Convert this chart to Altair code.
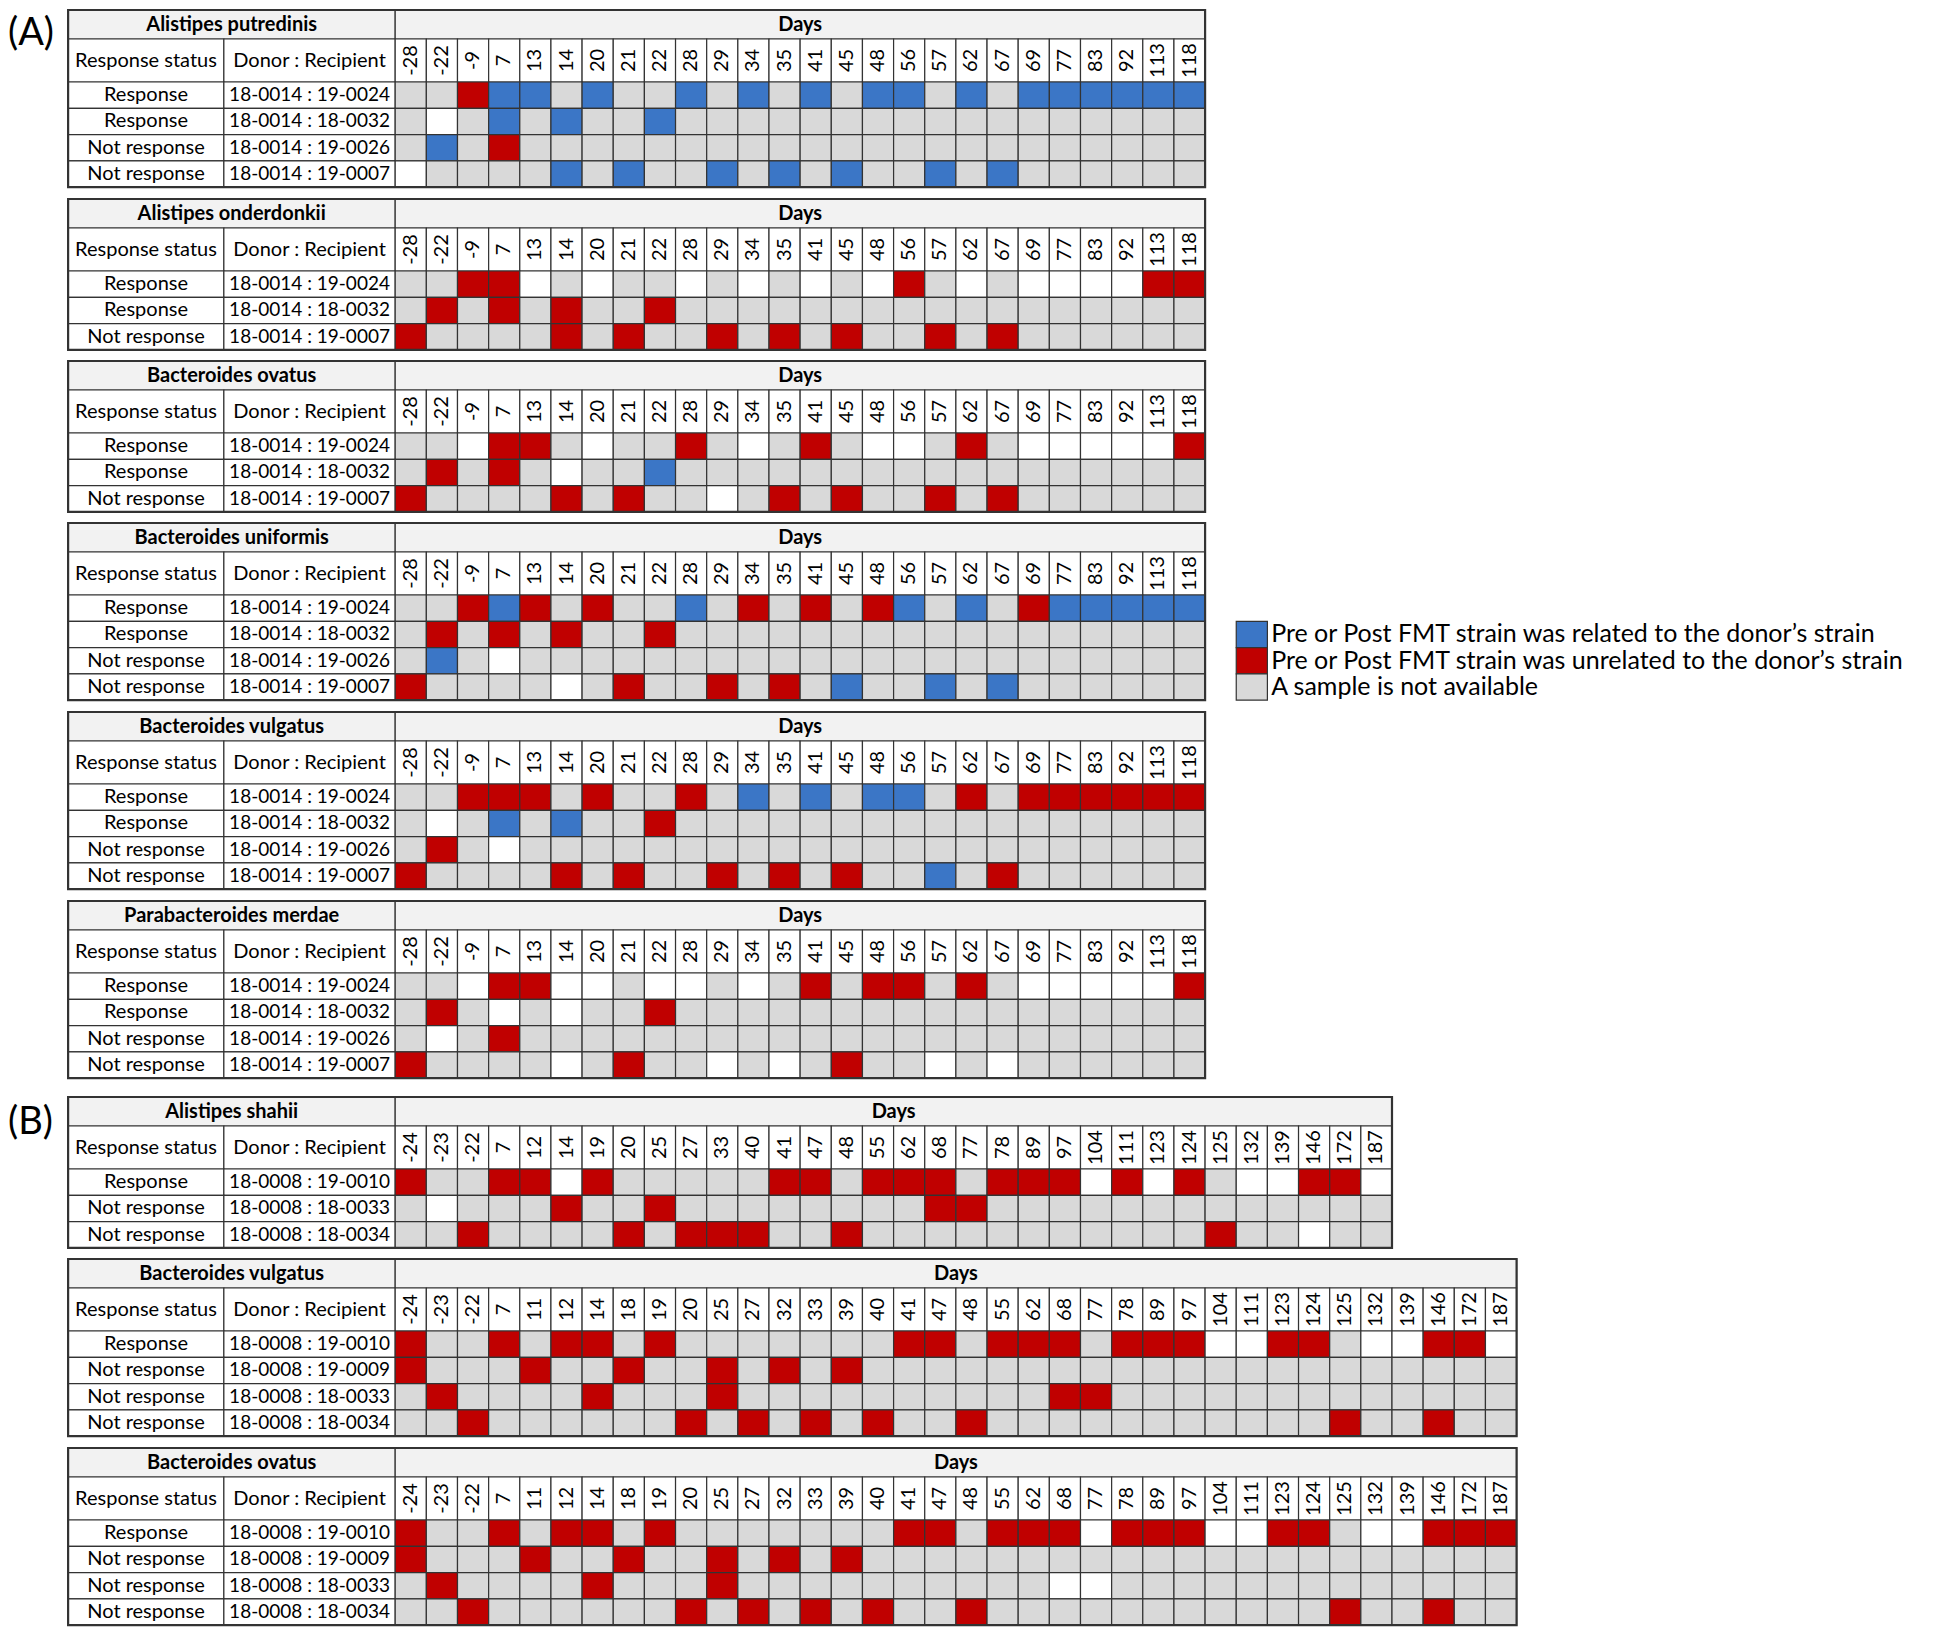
import altair as alt
import pandas as pd

# ---------------- data ----------------
DAYS_A = [-28, -22, -9, 7, 13, 14, 20, 21, 22, 28, 29, 34, 35, 41, 45, 48, 56, 57, 62, 67, 69, 77, 83, 92, 113, 118]
DAYS_B1 = [-24, -23, -22, 7, 12, 14, 19, 20, 25, 27, 33, 40, 41, 47, 48, 55, 62, 68, 77, 78, 89, 97, 104, 111,
           123, 124, 125, 132, 139, 146, 172, 187]
DAYS_B23 = [-24, -23, -22, 7, 11, 12, 14, 18, 19, 20, 25, 27, 32, 33, 39, 40, 41, 47, 48, 55, 62, 68, 77, 78, 89,
            97, 104, 111, 123, 124, 125, 132, 139, 146, 172, 187]

RESP_A4 = ["Response", "Response", "Not response", "Not response"]
PAIR_A4 = ["18-0014 : 19-0024", "18-0014 : 18-0032", "18-0014 : 19-0026", "18-0014 : 19-0007"]
RESP_A3 = ["Response", "Response", "Not response"]
PAIR_A3 = ["18-0014 : 19-0024", "18-0014 : 18-0032", "18-0014 : 19-0007"]
RESP_B1 = ["Response", "Not response", "Not response"]
PAIR_B1 = ["18-0008 : 19-0010", "18-0008 : 18-0033", "18-0008 : 18-0034"]
RESP_B4 = ["Response", "Not response", "Not response", "Not response"]
PAIR_B4 = ["18-0008 : 19-0010", "18-0008 : 19-0009", "18-0008 : 18-0033", "18-0008 : 18-0034"]

# B = related to donor strain, R = unrelated, G = sample not available, W = blank (white)
A_PUTREDINIS = ["GGRBBGBGGBGBGBGBBGBGBBBBBB",
                "GWGBGBGGBGGGGGGGGGGGGGGGGG",
                "GBGRGGGGGGGGGGGGGGGGGGGGGG",
                "WGGGGBGBGGBGBGBGGBGBGGGGGG"]
A_ONDERDONKII = ["GGRRWGWGGWGWGWGWRGWGWWWWRR",
                 "GRGRGRGGRGGGGGGGGGGGGGGGGG",
                 "RGGGGRGRGGRGRGRGGRGRGGGGGG"]
B_OVATUS_A = ["GGWRRGWGGRGWGRGWWGRGWWWWWR",
              "GRGRGWGGBGGGGGGGGGGGGGGGGG",
              "RGGGGRGRGGWGRGRGGRGRGGGGGG"]
B_UNIFORMIS = ["GGRBRGRGGBGRGRGRBGBGRBBBBB",
               "GRGRGRGGRGGGGGGGGGGGGGGGGG",
               "GBGWGGGGGGGGGGGGGGGGGGGGGG",
               "RGGGGWGRGGRGRGBGGBGBGGGGGG"]
B_VULGATUS_A = ["GGRRRGRGGRGBGBGBBGRGRRRRRR",
                "GWGBGBGGRGGGGGGGGGGGGGGGGG",
                "GRGWGGGGGGGGGGGGGGGGGGGGGG",
                "RGGGGRGRGGRGRGRGGBGRGGGGGG"]
P_MERDAE = ["GGWRRWWGWWGWGRGRRGRGWWWWWR",
            "GRGWGWGGRGGGGGGGGGGGGGGGGG",
            "GWGRGGGGGGGGGGGGGGGGGGGGGG",
            "RGGGGWGRGGWGWGRGGWGWGGGGGG"]
A_SHAHII = ["RGGRRWRGGGGGRRGRRRGRRRWRWRGWWRRW",
            "GWGGGRGGRGGGGGGGGRRGGGGGGGGGGGGG",
            "GGRGGGGRGRRRGGRGGGGGGGGGGGRGGWGG"]
B_VULGATUS_B = ["RGGRGRRGRGGGGGGGRRGRRRGRRRWWRRGWWRRW",
                "RGGGRGGRGGRGRGRGGGGGGGGGGGGGGGGGGGGG",
                "GRGGGGRGGGRGGGGGGGGGGRRGGGGGGGGGGGGG",
                "GGRGGGGGGRGRGRGRGGRGGGGGGGGGGGRGGRGG"]
B_OVATUS_B = ["RGGRGRRGRGGGGGGGRRGRRRWRRRWWRRGWWRRR",
              "RGGGRGGRGGRGRGRGGGGGGGGGGGGGGGGGGGGG",
              "GRGGGGRGGGRGGGGGGGGGGWWGGGGGGGGGGGGG",
              "GGRGGGGGGRGRGRGRGGRGGGGGGGGGGGRGGRGG"]

LEGEND_TEXT = ["Pre or Post FMT strain was related to the donor\u2019s strain",
               "Pre or Post FMT strain was unrelated to the donor\u2019s strain",
               "A sample is not available"]

CODE = {"B": "related", "R": "unrelated", "G": "na", "W": "absent"}
KIND_DOMAIN = ["related", "unrelated", "na", "absent", "head", "label"]
KIND_RANGE = ["#3B76C6", "#C00000", "#D9D9D9", "#FFFFFF", "#F2F2F2", "#FFFFFF"]

# ---------------- layout (styles / sizes) ----------------
FONT = "Lato"
CELL_PX = 31.15
ROW_PX = 26.3
TITLE_U = 29 / ROW_PX
HEAD_U = 43 / ROW_PX
STATUS_U = 5.0
DONOR_U = 5.5
LEFT_U = 1.93
BORDER = "#333333"
FS = 20
FS_PAIR = 19
FS_DAY = 20
FS_LEG = 25
FS_TAG = 38
GAP = 11
SECTION_EXTRA = 7  # extra px above panel (B)


def build_panel(species, days, resp, pairs, codes, tag=None, legend=False, extra_top=0.0):
    n = len(days)
    m = len(codes)
    top = TITLE_U + HEAD_U
    x0 = -(STATUS_U + DONOR_U)
    xmin = x0 - LEFT_U
    ymin = -extra_top / ROW_PX
    xs = alt.Scale(domain=[xmin, n], nice=False, zero=False)
    ys = alt.Scale(domain=[ymin, top + m], nice=False, zero=False, reverse=True)
    width = (n - xmin) * CELL_PX
    height = (top + m - ymin) * ROW_PX

    boxes = []

    def box(a, b, c, d, k):
        boxes.append(dict(x=a, x2=b, y=c, y2=d, kind=k))

    box(x0, 0, 0, TITLE_U, "head")
    box(0, n, 0, TITLE_U, "head")
    box(x0, x0 + STATUS_U, TITLE_U, top, "label")
    box(x0 + STATUS_U, 0, TITLE_U, top, "label")
    for j in range(n):
        box(j, j + 1, TITLE_U, top, "label")
    for i, row in enumerate(codes):
        box(x0, x0 + STATUS_U, top + i, top + i + 1, "label")
        box(x0 + STATUS_U, 0, top + i, top + i + 1, "label")
        for j, c in enumerate(row):
            box(j, j + 1, top + i, top + i + 1, CODE[c])
    if legend:
        for k, kind in enumerate(["related", "unrelated", "na"]):
            box(n + 1, n + 2, top + 1 + k, top + 2 + k, kind)

    bold = [dict(x=x0 / 2, y=TITLE_U / 2, t=species), dict(x=n / 2, y=TITLE_U / 2, t="Days")]
    normal = [dict(x=x0 + STATUS_U / 2, y=TITLE_U + HEAD_U / 2, t="Response status"),
              dict(x=x0 + STATUS_U + DONOR_U / 2, y=TITLE_U + HEAD_U / 2, t="Donor : Recipient")]
    pair_t = []
    for i in range(m):
        normal.append(dict(x=x0 + STATUS_U / 2, y=top + i + 0.5, t=resp[i]))
        pair_t.append(dict(x=x0 + STATUS_U + DONOR_U / 2, y=top + i + 0.5, t=pairs[i]))
    rot = [dict(x=j + 0.5, y=TITLE_U + HEAD_U / 2, t=str(d)) for j, d in enumerate(days)]

    enc = dict(x=alt.X("x:Q", scale=xs, axis=None), y=alt.Y("y:Q", scale=ys, axis=None))

    rects = alt.Chart(pd.DataFrame(boxes)).mark_rect(stroke=BORDER, strokeWidth=1.2).encode(
        x2="x2:Q", y2="y2:Q",
        color=alt.Color("kind:N", scale=alt.Scale(domain=KIND_DOMAIN, range=KIND_RANGE), legend=None),
        **enc)
    outline = alt.Chart(pd.DataFrame([dict(x=x0, x2=n, y=0, y2=top + m)])).mark_rect(
        fillOpacity=0, stroke=BORDER, strokeWidth=2.2).encode(x2="x2:Q", y2="y2:Q", **enc)
    t_bold = alt.Chart(pd.DataFrame(bold)).mark_text(
        font=FONT, fontSize=FS, fontWeight="bold", color="black", align="center", baseline="middle"
    ).encode(text="t:N", **enc)
    t_norm = alt.Chart(pd.DataFrame(normal)).mark_text(
        font=FONT, fontSize=FS, color="black", align="center", baseline="middle"
    ).encode(text="t:N", **enc)
    t_pair = alt.Chart(pd.DataFrame(pair_t)).mark_text(
        font=FONT, fontSize=FS_PAIR, color="black", align="center", baseline="middle"
    ).encode(text="t:N", **enc)
    t_rot = alt.Chart(pd.DataFrame(rot)).mark_text(
        font=FONT, fontSize=FS_DAY, color="black", align="center", baseline="middle", angle=270
    ).encode(text="t:N", **enc)
    layers = [rects, outline, t_bold, t_norm, t_pair, t_rot]
    if tag is not None:
        layers.append(alt.Chart(pd.DataFrame([dict(x=xmin, y=tag[1], t=tag[0])])).mark_text(
            font=FONT, fontSize=FS_TAG, color="black", align="left", baseline="middle"
        ).encode(text="t:N", **enc))
    if legend:
        lg = [dict(x=n + 2.12, y=top + 1.5 + k, t=s) for k, s in enumerate(LEGEND_TEXT)]
        layers.append(alt.Chart(pd.DataFrame(lg)).mark_text(
            font=FONT, fontSize=FS_LEG, color="black", align="left", baseline="middle"
        ).encode(text="t:N", **enc))
    return alt.layer(*layers).properties(width=width, height=height)


panels = [
    build_panel("Alistipes putredinis", DAYS_A, RESP_A4, PAIR_A4, A_PUTREDINIS, tag=("(A)", 0.92)),
    build_panel("Alistipes onderdonkii", DAYS_A, RESP_A3, PAIR_A3, A_ONDERDONKII),
    build_panel("Bacteroides ovatus", DAYS_A, RESP_A3, PAIR_A3, B_OVATUS_A),
    build_panel("Bacteroides uniformis", DAYS_A, RESP_A4, PAIR_A4, B_UNIFORMIS, legend=True),
    build_panel("Bacteroides vulgatus", DAYS_A, RESP_A4, PAIR_A4, B_VULGATUS_A),
    build_panel("Parabacteroides merdae", DAYS_A, RESP_A4, PAIR_A4, P_MERDAE),
    build_panel("Alistipes shahii", DAYS_B1, RESP_B1, PAIR_B1, A_SHAHII, tag=("(B)", 1.0),
                extra_top=SECTION_EXTRA),
    build_panel("Bacteroides vulgatus", DAYS_B23, RESP_B4, PAIR_B4, B_VULGATUS_B),
    build_panel("Bacteroides ovatus", DAYS_B23, RESP_B4, PAIR_B4, B_OVATUS_B),
]

chart = alt.vconcat(*panels, spacing=GAP, bounds="flush").properties(padding=0)
chart = chart.configure(font=FONT).configure_view(stroke=None)

chart.save("out.html", embed_options={"renderer": "svg", "actions": False})
